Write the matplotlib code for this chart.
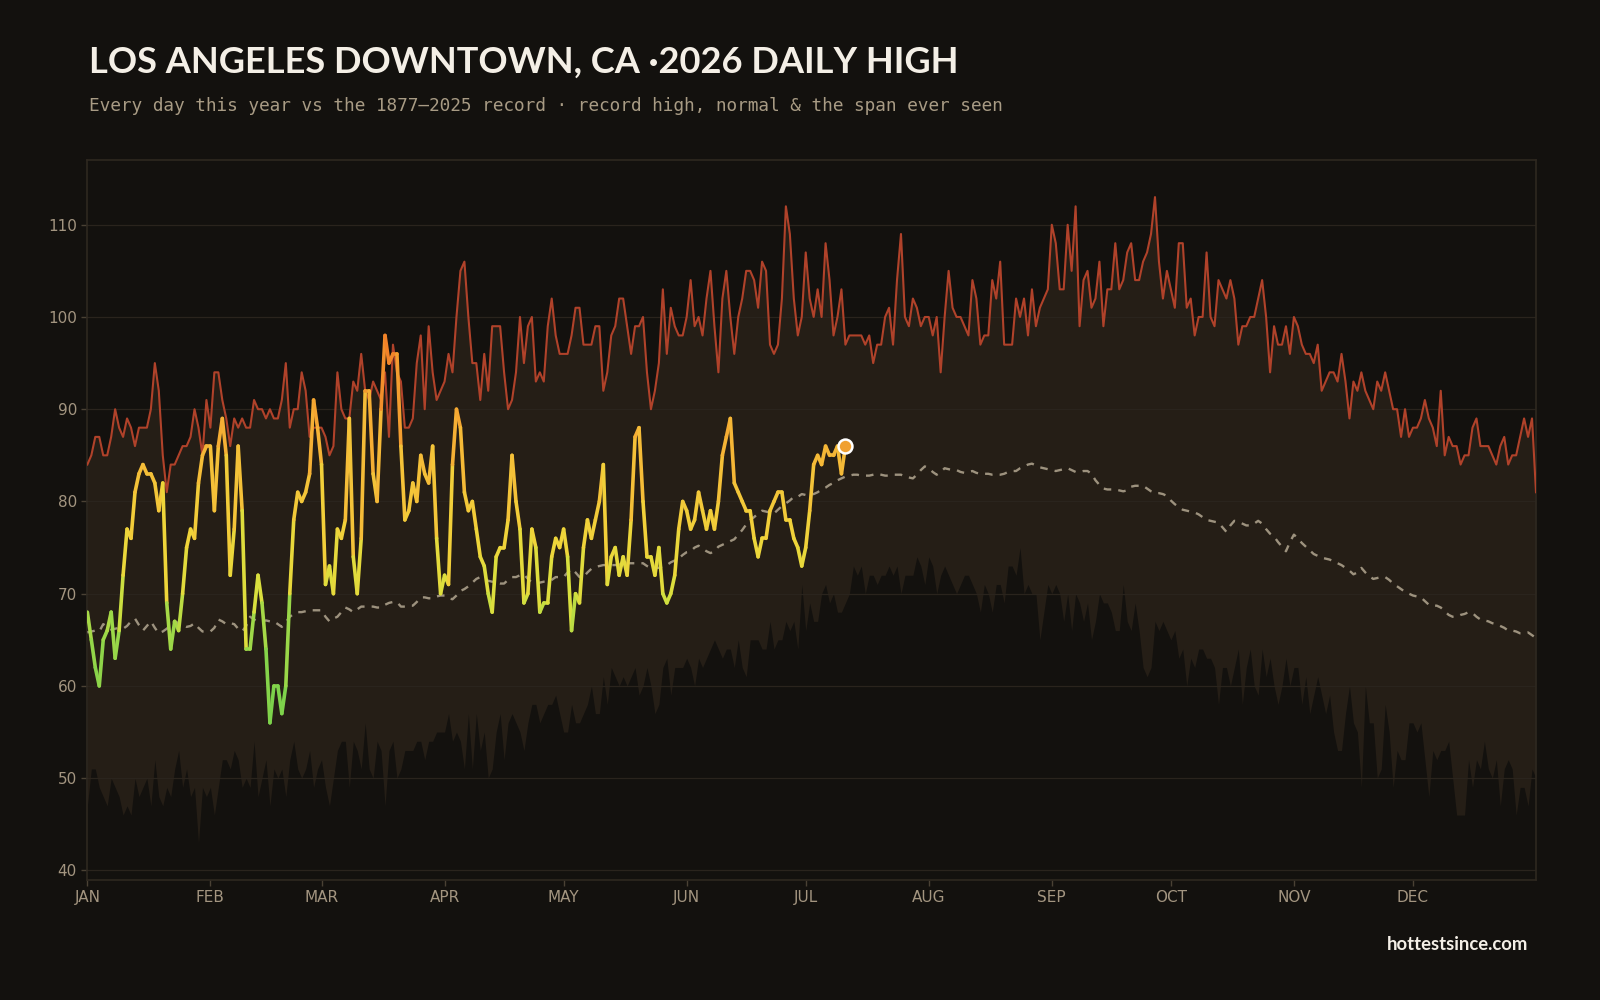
import matplotlib
matplotlib.use("Agg")
import numpy as np
import matplotlib.pyplot as plt
from matplotlib.collections import LineCollection
from matplotlib.colors import LinearSegmentedColormap, Normalize

# ---- data (deg F, day-of-year index 0..365) ----
record_high = [
    84, 85, 87, 87, 85, 85, 87, 90, 88, 87, 89, 88, 86, 88, 88, 88, 90, 95, 92, 85,
    81, 84, 84, 85, 86, 86, 87, 90, 88, 85, 91, 88, 94, 94, 91, 89, 86, 89, 88, 89,
    88, 88, 91, 90, 90, 89, 90, 89, 89, 91, 95, 88, 90, 90, 94, 92, 87, 88, 88, 88,
    87, 85, 86, 94, 90, 89, 89, 93, 92, 96, 92, 91, 93, 92, 91, 94, 87, 97, 94, 93,
    88, 88, 89, 95, 98, 90, 99, 94, 91, 92, 93, 96, 94, 100, 105, 106, 100, 95, 95, 91,
    96, 92, 99, 99, 99, 94, 90, 91, 94, 100, 95, 99, 100, 93, 94, 93, 99, 102, 98, 96,
    96, 96, 98, 101, 101, 97, 97, 97, 99, 99, 92, 94, 98, 99, 102, 102, 99, 96, 99, 99,
    100, 94, 90, 92, 95, 103, 96, 101, 99, 98, 98, 100, 104, 99, 100, 98, 102, 105, 99, 94,
    102, 105, 100, 96, 100, 102, 105, 105, 104, 101, 106, 105, 97, 96, 97, 102, 112, 109, 102, 98,
    100, 107, 102, 100, 103, 100, 108, 104, 98, 100, 103, 97, 98, 98, 98, 98, 97, 98, 95, 97,
    97, 100, 101, 97, 104, 109, 100, 99, 102, 101, 99, 100, 100, 98, 100, 94, 100, 105, 101, 100,
    100, 99, 98, 104, 102, 97, 98, 98, 104, 102, 106, 97, 97, 97, 102, 100, 102, 98, 103, 99,
    101, 102, 103, 110, 108, 103, 103, 110, 105, 112, 99, 104, 105, 101, 102, 106, 99, 103, 103, 108,
    103, 104, 107, 108, 104, 104, 106, 107, 109, 113, 106, 102, 105, 103, 101, 108, 108, 101, 102, 98,
    100, 100, 107, 100, 99, 104, 103, 102, 104, 102, 97, 99, 99, 100, 100, 102, 104, 100, 94, 99,
    97, 97, 99, 96, 100, 99, 97, 96, 96, 95, 97, 92, 93, 94, 94, 93, 96, 93, 89, 93,
    92, 94, 92, 91, 90, 93, 92, 94, 92, 90, 90, 87, 90, 87, 88, 88, 89, 91, 89, 88,
    86, 92, 85, 87, 86, 86, 84, 85, 85, 88, 89, 86, 86, 86, 85, 84, 86, 87, 84, 85,
    85, 87, 89, 87, 89, 81,
]

record_low = [
    47, 51, 51, 49, 48, 47, 50, 49, 48, 46, 47, 46, 50, 48, 49, 50, 47, 52, 48, 47,
    49, 48, 51, 53, 49, 51, 48, 49, 43, 49, 48, 49, 46, 49, 52, 52, 51, 53, 52, 49,
    50, 49, 54, 48, 50, 52, 47, 51, 50, 51, 48, 52, 54, 51, 50, 51, 53, 49, 51, 52,
    49, 47, 50, 53, 54, 54, 49, 54, 53, 51, 56, 51, 50, 54, 53, 47, 53, 54, 50, 51,
    53, 53, 53, 54, 54, 52, 54, 54, 55, 55, 55, 57, 54, 55, 54, 51, 57, 51, 57, 53,
    55, 50, 51, 55, 57, 52, 56, 57, 56, 55, 53, 56, 58, 58, 56, 57, 58, 58, 59, 57,
    55, 55, 58, 56, 56, 57, 58, 60, 57, 57, 61, 58, 62, 61, 60, 61, 60, 61, 62, 59,
    60, 62, 60, 57, 58, 62, 63, 59, 62, 62, 62, 63, 62, 60, 63, 62, 63, 64, 65, 64,
    63, 64, 64, 62, 65, 62, 61, 65, 65, 65, 64, 64, 67, 64, 65, 65, 67, 66, 67, 64,
    71, 66, 69, 67, 67, 70, 71, 69, 70, 68, 68, 69, 70, 73, 72, 73, 70, 72, 72, 71,
    72, 72, 73, 72, 73, 70, 72, 72, 72, 74, 73, 71, 74, 73, 70, 72, 73, 72, 71, 70,
    71, 72, 72, 71, 70, 68, 71, 70, 68, 71, 71, 69, 73, 73, 72, 75, 70, 71, 70, 70,
    65, 68, 71, 70, 71, 70, 67, 70, 66, 70, 69, 67, 69, 65, 67, 70, 69, 69, 68, 66,
    66, 71, 67, 66, 69, 66, 62, 61, 62, 67, 66, 67, 66, 65, 66, 63, 64, 60, 63, 62,
    64, 64, 63, 63, 62, 58, 62, 62, 60, 62, 64, 58, 62, 64, 60, 59, 64, 61, 63, 60,
    58, 60, 63, 60, 62, 62, 58, 61, 57, 59, 61, 59, 57, 59, 55, 53, 53, 57, 60, 56,
    55, 49, 60, 56, 56, 50, 51, 58, 55, 49, 53, 52, 52, 56, 56, 55, 56, 52, 48, 53,
    52, 53, 53, 54, 50, 46, 46, 46, 52, 49, 52, 51, 54, 51, 50, 52, 47, 51, 52, 51,
    46, 49, 49, 47, 51, 50,
]

normal = [
    65.8, 65.9, 66.0, 65.9, 66.7, 66.4, 66.1, 66.2, 66.3, 66.2,
    66.5, 67.0, 67.3, 66.6, 66.0, 66.5, 67.0, 66.3, 65.7, 65.9,
    66.2, 66.6, 67.0, 66.8, 66.6, 66.4, 66.5, 66.8, 66.3, 65.9,
    65.9, 65.9, 66.3, 67.2, 67.0, 66.7, 66.8, 66.7, 66.2, 65.9,
    66.5, 67.5, 67.2, 67.0, 67.0, 67.1, 67.0, 67.0, 66.7, 66.4,
    66.9, 67.5, 67.8, 68.0, 68.0, 68.1, 68.2, 68.2, 68.2, 68.2,
    67.5, 67.0, 67.3, 67.5, 68.0, 68.5, 68.3, 68.0, 68.3, 68.6,
    68.6, 68.6, 68.6, 68.5, 68.5, 68.8, 69.0, 69.1, 69.1, 68.6,
    68.6, 68.7, 68.7, 69.1, 69.6, 69.6, 69.5, 69.5, 69.7, 69.8,
    69.8, 69.5, 69.4, 69.8, 70.3, 70.5, 70.8, 71.2, 71.6, 71.8,
    71.6, 71.4, 71.3, 71.2, 71.1, 71.1, 71.5, 71.8, 71.8, 72.0,
    72.1, 71.6, 71.2, 71.1, 71.2, 71.3, 71.3, 71.5, 71.8, 71.8,
    71.8, 72.3, 72.7, 72.3, 71.8, 71.8, 72.3, 72.7, 72.9, 73.0,
    73.1, 73.1, 73.1, 73.1, 73.2, 73.3, 73.3, 73.3, 73.3, 73.3,
    73.3, 73.0, 72.8, 72.8, 72.8, 73.0, 73.1, 73.4, 73.6, 73.8,
    74.2, 74.5, 74.6, 75.0, 75.2, 74.9, 74.6, 74.4, 74.6, 75.1,
    75.3, 75.5, 75.7, 75.9, 76.4, 76.9, 77.5, 78.0, 78.3, 78.7,
    79.0, 78.9, 78.8, 78.7, 79.1, 79.5, 79.8, 80.1, 80.5, 80.5,
    80.8, 80.7, 80.8, 80.8, 81.0, 81.3, 81.5, 81.8, 82.0, 82.3,
    82.5, 82.7, 82.8, 82.9, 82.9, 82.8, 82.8, 82.8, 82.9, 83.0,
    82.9, 82.8, 82.8, 82.9, 82.9, 82.9, 82.7, 82.6, 82.5, 82.9,
    83.4, 83.8, 83.6, 83.2, 82.9, 83.2, 83.6, 83.5, 83.4, 83.4,
    83.2, 83.1, 83.2, 83.3, 83.1, 83.0, 83.0, 83.0, 82.9, 82.9,
    82.9, 83.0, 83.2, 83.3, 83.3, 83.6, 83.8, 84.0, 84.1, 83.9,
    83.7, 83.6, 83.5, 83.4, 83.3, 83.4, 83.5, 83.6, 83.4, 83.2,
    83.2, 83.3, 83.3, 83.0, 82.3, 81.8, 81.4, 81.3, 81.3, 81.3,
    81.2, 81.1, 81.2, 81.6, 81.7, 81.7, 81.7, 81.4, 81.1, 80.9,
    80.9, 80.8, 80.6, 80.1, 79.7, 79.4, 79.1, 79.0, 78.9, 78.8,
    78.6, 78.3, 78.0, 77.9, 77.8, 77.7, 77.2, 76.7, 77.4, 77.9,
    77.8, 77.6, 77.4, 77.4, 77.6, 77.9, 77.6, 77.0, 76.5, 76.2,
    75.6, 75.1, 74.6, 75.6, 76.4, 76.0, 75.5, 75.1, 74.7, 74.3,
    74.1, 73.9, 73.8, 73.7, 73.5, 73.3, 73.1, 72.8, 72.5, 72.1,
    72.3, 72.8, 72.3, 71.9, 71.6, 71.7, 71.8, 71.8, 71.5, 71.1,
    70.8, 70.5, 70.2, 70.0, 69.8, 69.7, 69.6, 69.2, 68.8, 68.7,
    68.7, 68.5, 68.1, 67.7, 67.5, 67.5, 67.7, 67.8, 68.0, 67.9,
    67.5, 67.2, 67.1, 67.0, 66.8, 66.7, 66.5, 66.3, 66.0, 66.0,
    65.9, 65.7, 65.7, 65.8, 65.5, 65.2,
]

this_year = [
    68, 65, 62, 60, 65, 66, 68, 63, 66, 72, 77, 76, 81, 83, 84, 83, 83, 82, 79, 82,
    69, 64, 67, 66, 70, 75, 77, 76, 82, 85, 86, 86, 79, 86, 89, 85, 72, 77, 86, 79,
    64, 64, 68, 72, 69, 64, 56, 60, 60, 57, 60, 70, 78, 81, 80, 81, 83, 91, 88, 84,
    71, 73, 70, 77, 76, 78, 89, 74, 70, 76, 92, 92, 83, 80, 90, 98, 95, 96, 96, 86,
    78, 79, 82, 80, 85, 83, 82, 86, 76, 70, 72, 71, 84, 90, 88, 81, 79, 80, 77, 74,
    73, 70, 68, 74, 75, 75, 78, 85, 80, 77, 69, 70, 77, 75, 68, 69, 69, 74, 76, 75,
    77, 74, 66, 70, 69, 75, 78, 76, 78, 80, 84, 71, 74, 75, 72, 74, 72, 78, 87, 88,
    80, 74, 74, 72, 75, 70, 69, 70, 72, 77, 80, 79, 77, 78, 81, 79, 77, 79, 77, 80,
    85, 87, 89, 82, 81, 80, 79, 79, 76, 74, 76, 76, 79, 80, 81, 81, 78, 78, 76, 75,
    73, 75, 79, 84, 85, 84, 86, 85, 85, 86, 83, 86,
]

month_labels = ["JAN", "FEB", "MAR", "APR", "MAY", "JUN",
                "JUL", "AUG", "SEP", "OCT", "NOV", "DEC"]
month_starts = [0, 31, 59, 90, 120, 151, 181, 212, 243, 273, 304, 334]

BG = "#13110e"
BAND = "#251e16"
RECORD = "#b0422a"
NORMAL = "#9d927e"
GRID = "#2a241d"
MUTED = "#a39580"

days = np.arange(len(record_high))
this_days = np.arange(len(this_year))

fig = plt.figure(figsize=(16, 10), dpi=100, facecolor=BG)
ax = fig.add_axes([0.0546, 0.1204, 0.9054, 0.7194], facecolor=BG)

# span ever seen + record high + normal
ax.fill_between(days, record_low, record_high, color=BAND, lw=0, zorder=1)
ax.plot(days, record_high, color=RECORD, lw=1.5, zorder=3)
ax.plot(days, normal, color=NORMAL, lw=1.7, ls=(0, (3.2, 3.0)), zorder=3)

# this year, coloured by temperature
heat_stops = [56, 66, 70, 76, 84, 90, 98]
heat_colors = ["#74d14c", "#9ed848", "#d8e03e", "#f0d43a", "#f5bc38", "#f5a431", "#f07a26"]
lo, hi = heat_stops[0], heat_stops[-1]
cmap = LinearSegmentedColormap.from_list(
    "heat", [((v - lo) / (hi - lo), c) for v, c in zip(heat_stops, heat_colors)])
norm = Normalize(lo, hi)
pts = np.column_stack([this_days, this_year]).reshape(-1, 1, 2)
segs = np.concatenate([pts[:-1], pts[1:]], axis=1)
mid = (np.array(this_year[:-1]) + np.array(this_year[1:])) / 2
lc = LineCollection(segs, colors=cmap(norm(mid)), linewidths=2.6,
                    capstyle="round", joinstyle="round", zorder=5)
ax.add_collection(lc)
ax.plot(this_days[-1], this_year[-1], "o", ms=10, mfc="#f0a030",
        mec="white", mew=1.8, zorder=6)

ax.set_xlim(0, 365)
ax.set_ylim(39, 117)
ax.set_yticks(range(40, 111, 10))
ax.set_xticks(month_starts)
ax.set_xticklabels(month_labels)
ax.grid(axis="y", color=GRID, lw=0.9, zorder=0)
ax.tick_params(colors=MUTED, labelsize=11, length=4, width=1)
ax.tick_params(axis="both", color="#4a4134")
for s in ax.spines.values():
    s.set_color("#2e2820")
    s.set_linewidth(1.2)

fig.text(0.0555, 0.938, "LOS ANGELES DOWNTOWN, CA \u00b72026 DAILY HIGH",
         family="Lato", weight="bold", fontsize=26.1, color="#f4efe6", va="center")
fig.text(0.0555, 0.894,
         "Every day this year vs the 1877\u20132025 record \u00b7 record high, normal & the span ever seen",
         family="DejaVu Sans Mono", fontsize=12.8, color="#a89b84", va="center")
fig.text(0.955, 0.056, "hottestsince.com", family="Lato", weight="bold",
         fontsize=13.3, color="#f4efe6", ha="right", va="center")

fig.savefig("out.png", dpi=100, facecolor=BG)
